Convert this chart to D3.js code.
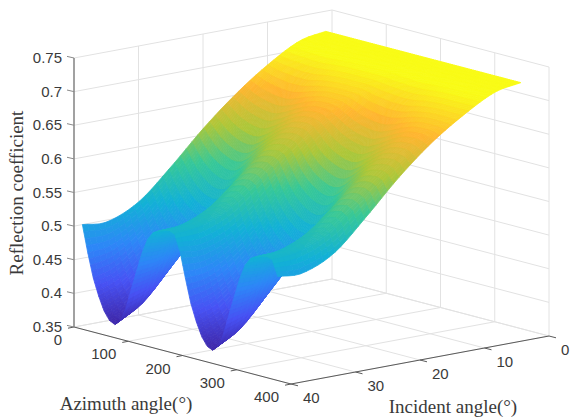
<!DOCTYPE html>
<html><head><meta charset="utf-8">
<style>html,body{margin:0;padding:0;background:#fff;overflow:hidden}svg{display:block}</style>
<script src="https://cdn.jsdelivr.net/npm/d3@7"></script></head><body>
<svg id="c" width="570" height="418"></svg>
<script>
const azTicks=[0,100,200,300,400];
const incTicks=[0,10,20,30,40];
const zTicks=[0.35,0.4,0.45,0.5,0.55,0.6,0.65,0.7,0.75];
const zLabels=["0.35","0.4","0.45","0.5","0.55","0.6","0.65","0.7","0.75"];
const azimuths=[0,10,20,30,40,50,60,70,80,90,100,110,120,130,140,150,160,170,180,190,200,210,220,230,240,250,260,270,280,290,300,310,320,330,340,350,360];
const incidents=[1,5,10,15,20,25,30,35,38.7];
const inc1 =[.720,.720,.720,.720,.720,.720,.720,.720,.720,.720,.720,.720,.720,.720,.720,.720,.720,.720,.720,.720,.720,.720,.720,.720,.720,.720,.720,.720,.720,.720,.720,.720,.720,.720,.720,.720,.720];
const inc5 =[.713,.713,.712,.712,.712,.711,.711,.711,.712,.712,.712,.713,.713,.713,.713,.713,.713,.713,.713,.713,.712,.712,.712,.711,.711,.711,.712,.712,.712,.713,.713,.713,.713,.713,.713,.713,.713];
const inc10=[.686,.684,.682,.681,.680,.679,.679,.679,.680,.682,.684,.685,.686,.687,.687,.687,.687,.687,.686,.684,.682,.681,.680,.679,.679,.679,.680,.682,.684,.685,.686,.687,.687,.687,.687,.687,.687];
const inc15=[.651,.646,.640,.636,.633,.631,.630,.631,.635,.639,.644,.649,.653,.657,.659,.660,.660,.658,.652,.646,.640,.636,.633,.631,.630,.631,.635,.639,.644,.649,.653,.657,.659,.660,.660,.658,.654];
const inc20=[.609,.598,.588,.581,.576,.572,.571,.573,.579,.587,.596,.604,.612,.619,.623,.625,.626,.623,.612,.598,.588,.581,.576,.572,.571,.573,.579,.587,.596,.604,.612,.619,.623,.625,.626,.623,.612];
const inc25=[.561,.544,.529,.518,.510,.505,.503,.506,.515,.528,.541,.553,.565,.577,.583,.586,.587,.582,.561,.544,.529,.518,.510,.505,.503,.506,.515,.528,.541,.553,.565,.577,.583,.586,.587,.582,.563];
const inc30=[.518,.496,.477,.463,.452,.445,.443,.448,.459,.475,.492,.508,.522,.537,.544,.547,.550,.544,.516,.496,.477,.463,.452,.445,.443,.448,.459,.475,.492,.508,.522,.537,.544,.547,.550,.544,.518];
const inc35=[.497,.465,.437,.416,.400,.390,.387,.394,.410,.434,.459,.482,.501,.516,.523,.526,.529,.525,.495,.465,.437,.416,.400,.390,.387,.394,.410,.434,.459,.482,.501,.516,.523,.526,.529,.525,.497];
const inc39=[.500,.460,.425,.400,.380,.368,.364,.372,.392,.423,.452,.481,.503,.515,.520,.523,.525,.522,.498,.460,.425,.400,.380,.368,.364,.372,.392,.423,.452,.481,.503,.515,.520,.523,.525,.522,.499];
const reflection=[inc1,inc5,inc10,inc15,inc20,inc25,inc30,inc35,inc39];
const parulaStops=[0.364,0.415,0.465,0.515,0.565,0.612,0.66,0.706];
const parula=["#3e26a8","#4752f4","#2d87f7","#12b1d6","#37c897","#abc739","#ffb52e","#f9fb15"];

const OX=332,OY=279;
const azX=d3.scaleLinear([0,400],[0,217]),azY=d3.scaleLinear([0,400],[0,57]);
const incX=d3.scaleLinear([0,40],[0,-258]),incY=d3.scaleLinear([0,40],[0,48]);
const zY=d3.scaleLinear([0.35,0.75],[0,-269]);
const px=(a,i)=>OX+azX(a)+incX(i);
const py=(a,i,z)=>OY+azY(a)+incY(i)+zY(z);
const color=d3.scaleLinear().domain(parulaStops).range(parula).interpolate(d3.interpolateRgb).clamp(true);

const svg=d3.select("#c");
const line=(g,p,q,col,w)=>g.append("line").attr("x1",p[0]).attr("y1",p[1]).attr("x2",q[0]).attr("y2",q[1]).attr("stroke",col).attr("stroke-width",w);
const grid=svg.append("g");
const GC="#e2e2e2";
azTicks.forEach(a=>{
  line(grid,[px(a,0),py(a,0,.35)],[px(a,40),py(a,40,.35)],GC,1);
  if(a>0) line(grid,[px(a,0),py(a,0,.35)],[px(a,0),py(a,0,.75)],GC,1);
});
incTicks.forEach(i=>{
  line(grid,[px(0,i),py(0,i,.35)],[px(400,i),py(400,i,.35)],GC,1);
  if(i<40) line(grid,[px(0,i),py(0,i,.35)],[px(0,i),py(0,i,.75)],GC,1);
});
zTicks.forEach(z=>{
  line(grid,[px(0,40),py(0,40,z)],[px(0,0),py(0,0,z)],GC,1);
  line(grid,[px(0,0),py(0,0,z)],[px(400,0),py(400,0,z)],GC,1);
});

// smooth shading between the read values (Hermite across rows, linear along azimuth)
function sampleInc(col,i){
  const n=incidents.length;
  let k=d3.bisectRight(incidents,i)-1; k=Math.max(0,Math.min(n-2,k));
  const t0=incidents[k],t1=incidents[k+1],h=t1-t0,t=(i-t0)/h;
  const v=j=>reflection[j][col];
  const m0=k>0?(v(k+1)-v(k-1))/(t1-incidents[k-1]):(v(1)-v(0))/h;
  const m1=k<n-2?(v(k+2)-v(k))/(incidents[k+2]-t0):(v(k+1)-v(k))/h;
  const t2=t*t,t3=t2*t;
  return (2*t3-3*t2+1)*v(k)+(t3-2*t2+t)*h*m0+(-2*t3+3*t2)*v(k+1)+(t3-t2)*h*m1;
}
const fineInc=d3.range(1,38.7,0.9).concat([38.7]);
const sub=4;
const fineAz=[];
azimuths.forEach((a,c)=>{ if(c<azimuths.length-1) for(let s=0;s<sub;s++) fineAz.push(c+s/sub); });
fineAz.push(azimuths.length-1);
const zAt=fineInc.map(i=>{
  const cols=azimuths.map((_,c)=>sampleInc(c,i));
  return fineAz.map(f=>{const c=Math.floor(f),t=f-c;return c>=cols.length-1?cols[cols.length-1]:cols[c]*(1-t)+cols[c+1]*t;});
});
const azOf=f=>{const c=Math.floor(f),t=f-c;return c>=azimuths.length-1?azimuths[azimuths.length-1]:azimuths[c]*(1-t)+azimuths[c+1]*t;};
const cells=[];
for(let r=0;r<fineInc.length-1;r++)for(let c=0;c<fineAz.length-1;c++)cells.push([r,c]);
svg.append("g").style("filter","blur(0.6px)").selectAll("path").data(cells).join("path")
 .attr("d",([r,c])=>{
   const a0=azOf(fineAz[c]),a1=azOf(fineAz[c+1]),i0=fineInc[r],i1=fineInc[r+1];
   return "M"+[[a0,i0,zAt[r][c]],[a1,i0,zAt[r][c+1]],[a1,i1,zAt[r+1][c+1]],[a0,i1,zAt[r+1][c]]]
     .map(p=>px(p[0],p[1]).toFixed(2)+","+py(p[0],p[1],p[2]).toFixed(2)).join("L")+"Z";
 })
 .each(function([r,c]){
   const col=color((zAt[r][c]+zAt[r][c+1]+zAt[r+1][c]+zAt[r+1][c+1])/4);
   d3.select(this).attr("fill",col).attr("stroke",col).attr("stroke-width",0.8);
 });

const axes=svg.append("g");
const AC="#5a5a5a";
line(axes,[px(0,40),py(0,40,.35)],[px(400,40),py(400,40,.35)],AC,1);
line(axes,[px(400,40),py(400,40,.35)],[px(400,0),py(400,0,.35)],AC,1);
line(axes,[px(0,40),py(0,40,.35)],[px(0,40),py(0,40,.75)],"#8a8a8a",1.6);
const font="'Liberation Sans',Arial,sans-serif",tc="#3a3a3a";
const txt=(x,y,s,anchor,size,fam)=>svg.append("text").attr("x",x).attr("y",y).attr("text-anchor",anchor).attr("font-size",size).attr("font-family",fam).attr("fill",tc).text(s);
azTicks.forEach(a=>{
  const x=px(a,40),y=py(a,40,.35);
  line(axes,[x,y],[x-6,y+1.2],AC,1);
  txt(x-12,y+18,a,"end",15,font);
});
incTicks.forEach(i=>{
  const x=px(400,i),y=py(400,i,.35);
  line(axes,[x,y],[x+7,y+1.8],AC,1);
  txt(x+12,y+19,i,"start",15,font);
});
zTicks.forEach((z,k)=>{
  const x=px(0,40),y=py(0,40,z);
  line(axes,[x,y],[x-7,y-1.6],"#8a8a8a",1);
  txt(x-12,y+5,zLabels[k],"end",15,font);
});
const serif="'Liberation Serif','Times New Roman',serif";
svg.append("text").attr("transform","translate(23,193) rotate(-90)").attr("text-anchor","middle").attr("font-size",19).attr("font-family",serif).attr("fill",tc).text("Reflection coefficient");
txt(126,410,"Azimuth angle(°)","middle",19,serif);
txt(453,413,"Incident angle(°)","middle",19,serif);
</script></body></html>
